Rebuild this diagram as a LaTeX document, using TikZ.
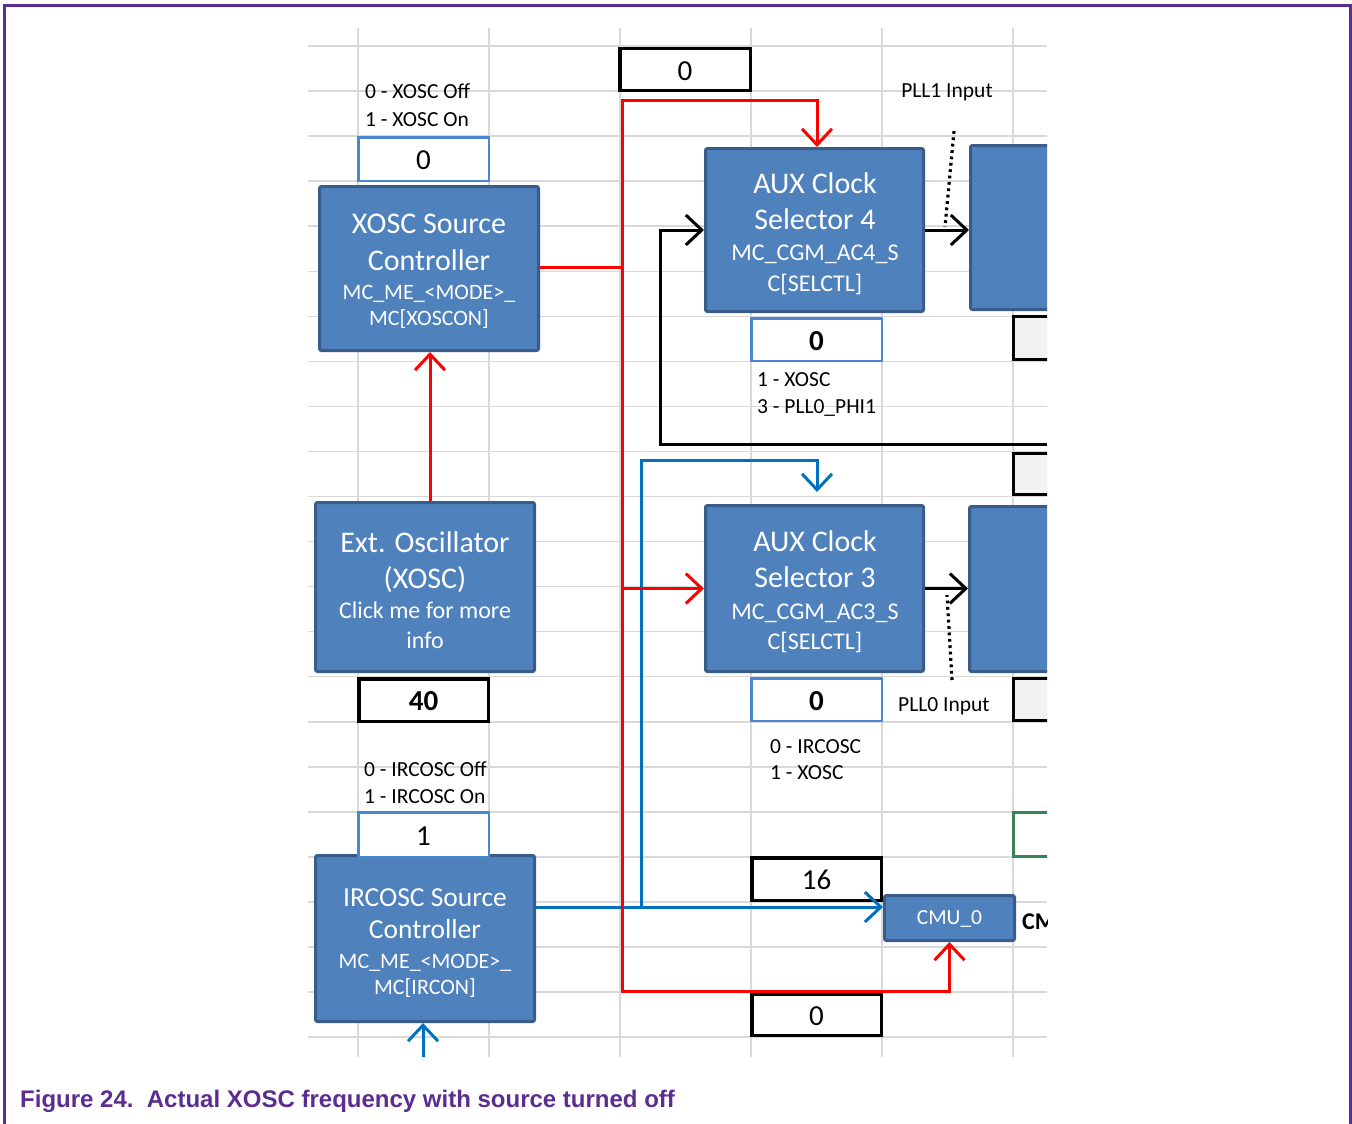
\documentclass[tikz,border=0pt]{standalone}
\usepackage{fontspec}
\setmainfont{Carlito}
\newfontfamily\capfont{Liberation Sans}
\usetikzlibrary{arrows.meta,calc}
\definecolor{boxfill}{RGB}{79,129,189}
\definecolor{boxline}{RGB}{56,93,138}
\definecolor{valblue}{RGB}{74,134,212}
\definecolor{linkred}{RGB}{255,0,0}
\definecolor{linkblue}{RGB}{0,112,192}
\definecolor{gridgray}{RGB}{217,217,217}
\definecolor{nxppurple}{RGB}{92,45,145}
\definecolor{cellgray}{RGB}{242,242,242}
\definecolor{cellgreen}{RGB}{56,132,84}
\newcommand\szhead{\fontsize{30}{36}\selectfont}
\newcommand\szheadb{\fontsize{27.5}{33}\selectfont}
\newcommand\szsub{\fontsize{22}{26}\selectfont}
\newcommand\szsubb{\fontsize{24}{28}\selectfont}
\newcommand\szlbl{\fontsize{21.5}{26}\selectfont}
\newcommand\szval{\fontsize{29}{34}\selectfont}
\begin{document}
\begin{tikzpicture}[x=1pt,y=-1pt,
 grid/.style={draw=gridgray,line width=1.5pt},
 blk/.style={draw=boxline,fill=boxfill,line width=3pt,rounded corners=2pt,inner sep=0,anchor=north west},
 valb/.style={draw=valblue,fill=white,line width=2.5pt,inner sep=0,anchor=north west,font=\szval,text height=21.5pt,text depth=0pt},
 valk/.style={draw=black,fill=white,line width=3.5pt,inner sep=0,anchor=north west,font=\szval,text height=21.5pt,text depth=0pt},
 cell/.style={draw=black,fill=cellgray,line width=3pt,inner sep=0,anchor=north west},
 wt/.style={text=white,inner sep=0,anchor=base},
 lbl/.style={inner sep=0,anchor=base west,font=\szlbl,text=black},
 arr/.style={-{Straight Barb[length=16pt,width=30pt]}},
 rl/.style={draw=linkred,line width=3pt},
 bl/.style={draw=linkblue,line width=3pt},
 kl/.style={draw=black,line width=3pt},
 dotl/.style={draw=black,line width=3.2pt,dash pattern=on 2.8pt off 3.6pt}
]
\useasboundingbox (0,0) rectangle (1352,1124);
\fill[white] (0,0) rectangle (1352,1124);
% frame
\draw[nxppurple,line width=3pt] (4,1130) -- (4,6) -- (1350,6) -- (1350,1130);

\begin{scope}
\clip (300,0) rectangle (1047,1124);
% spreadsheet grid
\foreach \k in {0,...,22} \draw[grid] (308,{46+45.05*\k}) -- (1047,{46+45.05*\k});
\foreach \x in {358,489,620,751,882,1013} \draw[grid] (\x,28) -- (\x,1057);

% boxes
\node[blk,minimum width=219,minimum height=164] (xosc) at (318,185) {};
\node[blk,minimum width=219,minimum height=169] (ext) at (314,501) {};
\node[blk,minimum width=219,minimum height=166] (irc) at (314,854) {};
\node[blk,minimum width=218,minimum height=163] (aux4) at (704,147) {};
\node[blk,minimum width=218,minimum height=166] (aux3) at (704,504) {};
\node[blk,minimum width=130,minimum height=45,font=\szlbl,text=white,text depth=0pt] (cmu) at (883,894) {CMU\_0};
\node[blk,minimum width=100,minimum height=164] (pll1) at (969,144) {};
\node[blk,minimum width=100,minimum height=165] (pll0) at (968,505) {};

\node[cell,minimum width=60,minimum height=43] (g1) at (1012,315) {};
\node[cell,minimum width=60,minimum height=41] (g2) at (1012,452) {};
\node[cell,minimum width=60,minimum height=42] (g3) at (1012,677) {};
\node[cell,draw=cellgreen,fill=white,minimum width=60,minimum height=44] (g4) at (1012,811) {};

% value cells
\node[valb,minimum width=130.5,minimum height=43.5] (vxo) at (357,136) {0};
\node[valk,minimum width=129.5,minimum height=42.5,font=\szval\bfseries] (v40) at (357,677) {40};
\node[valb,minimum width=130.5,minimum height=44.5] (vir) at (357,811) {1};
\node[valk,minimum width=130.5,minimum height=41.5] (vtop) at (618,47) {0};
\node[valb,minimum width=130.5,minimum height=42.5,font=\szval\bfseries] (va4) at (750,317) {0};
\node[valb,minimum width=130.5,minimum height=42.5,font=\szval\bfseries] (va3) at (750,677) {0};
\node[valk,minimum width=129.5,minimum height=42.5] (v16) at (750,856) {16};
\node[valk,minimum width=129.5,minimum height=41.5] (vbot) at (750,992) {0};

% connectors
\coordinate (bj) at (641,907);
\coordinate (a3in) at (817,492);
\draw[bl] (irc.east |- bj) -- (bj);
\draw[bl,arr] (bj) -- (641,460) -| (a3in);
\draw[bl,arr] (bj) -- (cmu.west |- bj);
\coordinate (ircin) at (423,1057);
\draw[bl,arr] (ircin) -- (irc.south -| ircin);

\coordinate (rj) at (622,267);
\draw[rl] (xosc.east |- rj) -- (rj);
\draw[rl,arr] (rj) -- (622,100) -| (aux4.north -| 817,0);
\draw[rl,arr] (rj) -- (622,991) -| (cmu.south);
\draw[rl,arr] (aux3.west -| rj) -- (aux3.west);
\draw[rl,arr] (ext.north -| 430,0) -- (xosc.south -| 430,0);

\coordinate (kr) at (1047,444);
\draw[kl,arr] (kr) -- (660,444) -- (660,230) -- (aux4.west);
\draw[kl,arr] (aux4.east) -- (aux4.east -| pll1.west);
\draw[kl,arr] (aux3.east) -- (aux3.east -| pll0.west);
\coordinate (d1a) at (954,131);
\coordinate (d1b) at (945,227);
\draw[dotl] (d1a) -- (d1b);
\coordinate (d0a) at (952,680);
\coordinate (d0b) at (947,595);
\draw[dotl] (d0a) -- (d0b);

% box texts
\node[wt,font=\szhead] (xt1) at (429,233) {XOSC Source};
\node[wt,font=\szhead] (xt2) at (429,270) {Controller};
\node[wt,font=\szsub] (xt3) at (429,299) {MC\_ME\_<MODE>\_};
\node[wt,font=\szsub] (xt4) at (429,325) {MC[XOSCON]};

\node[wt,font=\szhead] (et1) at (425,552) {Ext. Oscillator};
\node[wt,font=\szhead] (et2) at (425,588) {(XOSC)};
\node[wt,font=\szsubb] (et3) at (425,618) {Click me for more};
\node[wt,font=\szsubb] (et4) at (425,648) {info};

\node[wt,font=\szheadb] (it1) at (425,906) {IRCOSC Source};
\node[wt,font=\szheadb] (it2) at (425,938) {Controller};
\node[wt,font=\szsub] (it3) at (425,968) {MC\_ME\_<MODE>\_};
\node[wt,font=\szsub] (it4) at (425,994) {MC[IRCON]};

\node[wt,font=\szhead] (a4t1) at (815,193) {AUX Clock};
\node[wt,font=\szhead] (a4t2) at (815,229) {Selector 4};
\node[wt,font=\szsubb] (a4t3) at (815,260) {MC\_CGM\_AC4\_S};
\node[wt,font=\szsubb] (a4t4) at (815,291) {C[SELCTL]};

\node[wt,font=\szhead] (a3t1) at (815,551) {AUX Clock};
\node[wt,font=\szhead] (a3t2) at (815,587) {Selector 3};
\node[wt,font=\szsubb] (a3t3) at (815,619) {MC\_CGM\_AC3\_S};
\node[wt,font=\szsubb] (a3t4) at (815,649) {C[SELCTL]};

% labels
\node[lbl] (l1) at (365,99) {0 - XOSC Off};
\node[lbl] (l2) at (365,126) {1 - XOSC On};
\node[lbl,anchor=base] (l3) at (947,97) {PLL1 Input};
\node[lbl] (l4) at (757,386) {1 - XOSC};
\node[lbl] (l5) at (757,413) {3 - PLL0\_PHI1};
\node[lbl] (l6) at (898,711) {PLL0 Input};
\node[lbl] (l7) at (770,753) {0 - IRCOSC};
\node[lbl] (l8) at (770,779) {1 - XOSC};
\node[lbl] (l9) at (364,776) {0 - IRCOSC Off};
\node[lbl] (l10) at (364,803) {1 - IRCOSC On};
\node[lbl,font=\szsubb\bfseries] (l11) at (1022,929) {CMU};
\end{scope}

\node[anchor=base west,inner sep=0,font={\capfont\bfseries\fontsize{24}{28}\selectfont},text=nxppurple] (cap) at (20,1107) {Figure 24.\ \ Actual XOSC frequency with source turned off};
\end{tikzpicture}
\end{document}
